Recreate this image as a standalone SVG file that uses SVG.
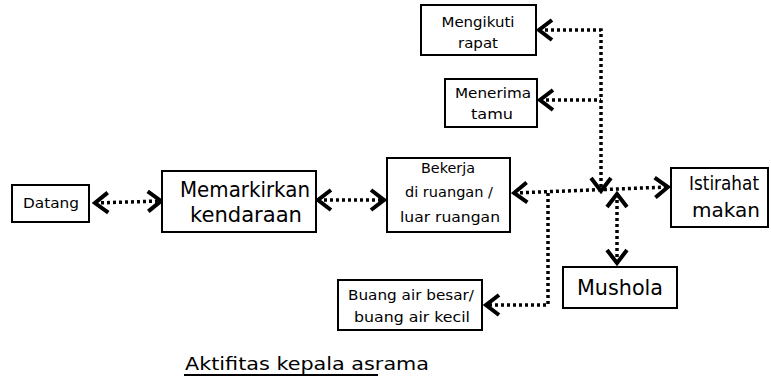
<svg xmlns="http://www.w3.org/2000/svg" width="771" height="381" viewBox="0 0 771 381">
<defs>
<style>
.box{fill:#fff;stroke:#000;stroke-width:2}
.t{font-family:"DejaVu Sans","Liberation Sans",sans-serif;fill:#000;text-anchor:middle}
.c{fill:none;stroke:#000;stroke-width:3.5;stroke-dasharray:3 3}
</style>
<marker id="chev" viewBox="0 0 18 24" refX="15" refY="12" markerWidth="18" markerHeight="24" markerUnits="userSpaceOnUse" orient="auto-start-reverse">
<path d="M2,2 L15,12 L2,22" fill="none" stroke="#000" stroke-width="4" stroke-dasharray="none"/>
</marker>
</defs>
<rect width="771" height="381" fill="#fff"/>
<g id="connectors">
<path class="c" d="M95,203 L161,201" marker-start="url(#chev)" marker-end="url(#chev)"/>
<path class="c" d="M318,200 L384,200" marker-start="url(#chev)" marker-end="url(#chev)"/>
<path class="c" d="M514,193 L668,187" marker-start="url(#chev)" marker-end="url(#chev)"/>
<path class="c" d="M539,30 L601,30 L601,191" marker-start="url(#chev)" marker-end="url(#chev)"/>
<path class="c" d="M540,100 L601,100" marker-start="url(#chev)"/>
<path class="c" d="M617,194 L617,263" marker-start="url(#chev)" marker-end="url(#chev)"/>
<path class="c" d="M548,193 L548,305 L486,305" marker-end="url(#chev)"/>
</g>
<g id="datang">
<rect class="box" x="12" y="185" width="77" height="37"/>
<text class="t" x="51" y="208" font-size="14" textLength="56" lengthAdjust="spacingAndGlyphs">Datang</text>
</g>
<g id="memarkirkan">
<rect class="box" x="162" y="171" width="154" height="61"/>
<text class="t" x="245" y="197" font-size="22" textLength="130" lengthAdjust="spacingAndGlyphs">Memarkirkan</text>
<text class="t" x="246" y="222" font-size="22" textLength="112" lengthAdjust="spacingAndGlyphs">kendaraan</text>
</g>
<g id="bekerja">
<rect class="box" x="387" y="158" width="123" height="74"/>
<text class="t" x="448" y="173" font-size="14" textLength="54" lengthAdjust="spacingAndGlyphs">Bekerja</text>
<text class="t" x="449" y="197" font-size="14" textLength="88" lengthAdjust="spacingAndGlyphs">di ruangan /</text>
<text class="t" x="450" y="222" font-size="14" textLength="100" lengthAdjust="spacingAndGlyphs">luar ruangan</text>
</g>
<g id="mengikuti">
<rect class="box" x="421" y="5" width="115" height="50"/>
<text class="t" x="478" y="27" font-size="14" textLength="73" lengthAdjust="spacingAndGlyphs">Mengikuti</text>
<text class="t" x="478" y="48" font-size="14" textLength="40" lengthAdjust="spacingAndGlyphs">rapat</text>
</g>
<g id="menerima">
<rect class="box" x="445" y="79" width="92" height="48"/>
<text class="t" x="493" y="98" font-size="14" textLength="76" lengthAdjust="spacingAndGlyphs">Menerima</text>
<text class="t" x="492" y="119" font-size="14" textLength="42" lengthAdjust="spacingAndGlyphs">tamu</text>
</g>
<g id="istirahat">
<rect class="box" x="671" y="168" width="97" height="59"/>
<text class="t" x="724" y="190" font-size="19" textLength="70" lengthAdjust="spacingAndGlyphs">Istirahat</text>
<text class="t" x="726" y="217" font-size="19" textLength="68" lengthAdjust="spacingAndGlyphs">makan</text>
</g>
<g id="mushola">
<rect class="box" x="563" y="267" width="114" height="41"/>
<text class="t" x="620" y="295" font-size="21" textLength="86" lengthAdjust="spacingAndGlyphs">Mushola</text>
</g>
<g id="buang">
<rect class="box" x="338" y="280" width="144" height="50"/>
<text class="t" x="411" y="300" font-size="14" textLength="126" lengthAdjust="spacingAndGlyphs">Buang air besar/</text>
<text class="t" x="412" y="322" font-size="14" textLength="116" lengthAdjust="spacingAndGlyphs">buang air kecil</text>
</g>
<g id="title">
<text class="t" x="307" y="370" font-size="17" textLength="244" lengthAdjust="spacingAndGlyphs">Aktifitas kepala asrama</text>
<line x1="184" y1="375" x2="378" y2="375" stroke="#000" stroke-width="2"/>
</g>
</svg>
